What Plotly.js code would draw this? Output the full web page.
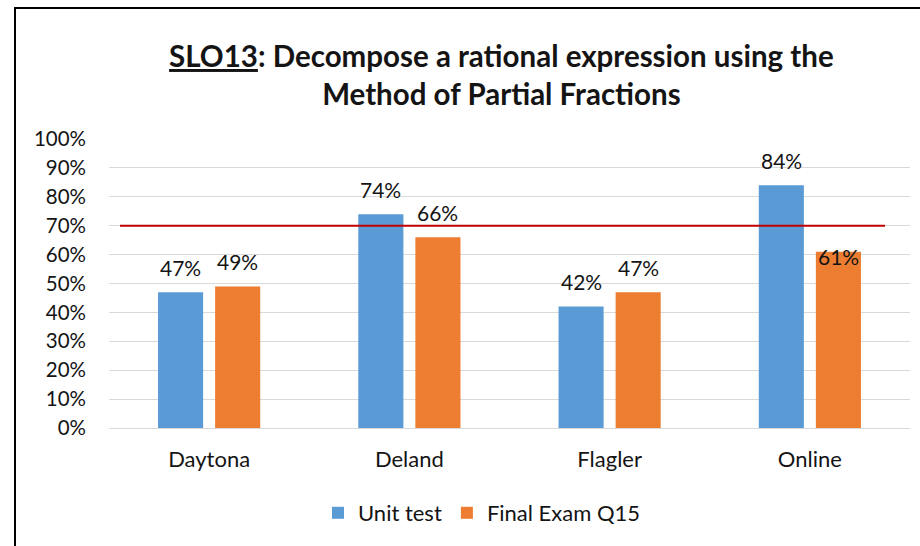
<!DOCTYPE html>
<html>
<head>
<meta charset="utf-8">
<script src="https://cdn.plot.ly/plotly-3.0.1.min.js"></script>
<style>
  html, body { margin: 0; padding: 0; background: #fff; }
  #chart { width: 920px; height: 546px; }
  #frame { position: absolute; left: 14px; top: 7px; width: 1000px; height: 1000px;
           border-left: 2px solid #000; border-top: 2px solid #000; pointer-events: none; }
</style>
</head>
<body>
<div id="chart"></div>
<div id="frame"></div>
<script>
const categories = ["Daytona", "Deland", "Flagler", "Online"];
const unitTest = [0.47, 0.74, 0.42, 0.84];
const finalExam = [0.49, 0.66, 0.47, 0.61];
const seriesNames = ["Unit test", "Final Exam Q15"];
const target = 0.70;
const yTicks = [0, 0.1, 0.2, 0.3, 0.4, 0.5, 0.6, 0.7, 0.8, 0.9, 1.0];

const FONT = "Lato, 'Open Sans', sans-serif";
const TXT = "#141414";
const BLUE = "#5b9bd5", ORANGE = "#ed7d31";

const traces = [
  { type: "bar", name: seriesNames[0], x: categories, y: unitTest, marker: { color: BLUE }, hoverinfo: "skip" },
  { type: "bar", name: seriesNames[1], x: categories, y: finalExam, marker: { color: ORANGE }, hoverinfo: "skip" }
];

// data labels
const annotations = [];
const labelLift = [[25, 25, 25, 25], [25, 25, 25, -5]];
[unitTest, finalExam].forEach((vals, s) => {
  vals.forEach((v, i) => {
    annotations.push({
      x: categories[i], y: v, xref: "x", yref: "y",
      text: Math.round(v * 100) + "%", showarrow: false,
      xshift: s === 0 ? -28.5 : 28.5, yshift: labelLift[s][i],
      font: { family: FONT, size: 21, color: TXT }
    });
  });
});

const layout = {
  width: 920, height: 546,
  paper_bgcolor: "#fff", plot_bgcolor: "#fff",
  margin: { l: 109, r: 10, t: 139, b: 118 },
  title: {
    text: "<b><u>SLO13</u>: Decompose a rational expression using the<br>Method of Partial Fractions</b>",
    xref: "container", yref: "container", x: 0.545, xanchor: "center",
    y: 1 - 67 / 546, yanchor: "middle",
    font: { family: FONT, size: 29.5, color: TXT }
  },
  barmode: "group", bargap: 0.43, bargroupgap: 0.21,
  xaxis: {
    type: "category", range: [-0.5, 3.5], showgrid: false,
    showline: true, linecolor: "#d9d9d9", linewidth: 1,
    ticks: "", ticklabelstandoff: 12,
    tickfont: { family: FONT, size: 22, color: TXT }, fixedrange: true
  },
  yaxis: {
    range: [0, 1], tickvals: yTicks, tickformat: ".0%",
    showgrid: true, gridcolor: "#d9d9d9", gridwidth: 1,
    zeroline: false, showline: false, ticks: "", ticklabelstandoff: 22,
    tickfont: { family: FONT, size: 20.5, color: TXT }, fixedrange: true
  },
  legend: {
    orientation: "h", xref: "container", yref: "container",
    x: 482 / 920, xanchor: "center", y: 1 - 513 / 546, yanchor: "middle",
    itemwidth: 30,
    font: { family: FONT, size: 22, color: TXT }, itemclick: false, itemdoubleclick: false
  },
  shapes: [{
    type: "line", xref: "paper", yref: "y",
    x0: (120 - 109) / 801, x1: (885 - 109) / 801, y0: target, y1: target,
    line: { color: "#c00000", width: 2 }
  }],
  annotations: annotations,
  showlegend: true
};

Plotly.newPlot("chart", traces, layout, { displayModeBar: false, staticPlot: true });
</script>
</body>
</html>
